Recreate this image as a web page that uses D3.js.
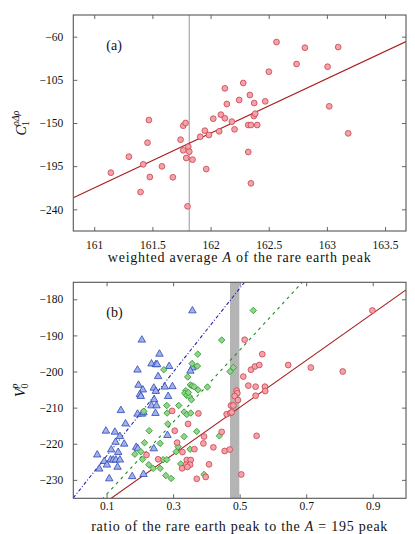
<!DOCTYPE html>
<html><head><meta charset="utf-8">
<script src="https://cdn.jsdelivr.net/npm/d3@7"></script>
<style>
body{margin:0;background:#fff;}
text{font-family:"Liberation Serif","DejaVu Serif",serif;fill:#111;}
</style></head>
<body><svg id="c" width="415" height="534"></svg>
<script>
// ---------- Panel (a) data ----------
const aX = [161.143,161.298,161.421,161.398,161.470,161.458,161.478,161.582,161.676,161.742,
  161.765,161.785,161.765,161.808,161.817,161.791,161.845,161.802,161.911,161.951,
  161.986,162.023,161.963,162.074,162.089,162.123,162.123,162.140,162.183,162.206,
  162.246,162.281,162.324,162.347,162.324,162.347,162.338,162.375,162.372,162.384,
  162.401,162.470,162.501,162.567,162.739,162.811,163.006,163.020,163.097,163.183];
const aY = [-201.8,-185.1,-193.1,-222.0,-146.9,-170.5,-206.3,-195.2,-206.6,-167.4,
  -152.8,-150.0,-178.5,-174.7,-179.9,-186.5,-188.2,-236.9,-164.3,-158.0,
  -162.5,-145.5,-198.0,-158.7,-141.3,-145.1,-113.9,-130.2,-148.6,-156.6,
  -126.0,-108.3,-152.1,-152.1,-180.2,-212.9,-120.8,-129.2,-142.7,-140.3,
  -152.1,-127.4,-96.5,-65.6,-88.5,-71.5,-91.3,-132.6,-70.8,-160.8];
const aFit = {x0:162, y0:-160.7, slope:56.9};
const aRef = 161.817;
const aXTicks = [161,161.5,162,162.5,163,163.5];
const aYTicks = [-60,-105,-150,-195,-240];
const aXDomain = [160.82,163.68];
const aYDomain = [-262.6,-37.4];

// ---------- Panel (b) data ----------
const bBlue = [[0.206,-191.1],[0.259,-195.0],[0.235,-197.7],[0.248,-197.9],[0.252,-197.9],
  [0.288,-198.4],[0.193,-199.4],[0.255,-201.2],[0.298,-204.0],[0.196,-203.6],[0.209,-204.9],
  [0.200,-206.2],[0.203,-206.7],[0.242,-204.4],[0.248,-205.3],[0.275,-204.1],[0.285,-206.7],
  [0.243,-207.6],[0.235,-209.3],[0.250,-209.3],[0.247,-211.4],[0.193,-211.6],[0.206,-211.6],
  [0.211,-211.2],[0.143,-210.6],[0.157,-214.3],[0.283,-217.5],[0.098,-216.3],[0.125,-216.6],
  [0.140,-217.8],[0.127,-219.4],[0.153,-219.9],[0.072,-222.9],[0.114,-221.5],[0.135,-222.2],
  [0.189,-220.8],[0.194,-221.2],[0.242,-221.2],[0.112,-224.3],[0.120,-224.3],[0.128,-224.3],
  [0.140,-224.3],[0.093,-224.7],[0.101,-225.7],[0.078,-226.8],[0.133,-226.3],[0.108,-229.5],
  [0.177,-228.9],[0.211,-228.3],[0.358,-183.0],[0.358,-198.8],[0.352,-199.7]];
const bGreen = [[0.541,-183.1],[0.446,-191.3],[0.374,-195.2],[0.272,-199.5],[0.357,-197.8],
  [0.373,-198.5],[0.471,-200.0],[0.481,-198.9],[0.344,-201.5],[0.352,-203.7],[0.357,-204.0],
  [0.363,-204.2],[0.375,-205.1],[0.403,-204.3],[0.338,-205.3],[0.335,-206.0],[0.341,-206.6],
  [0.349,-206.9],[0.355,-207.8],[0.346,-205.8],[0.281,-209.4],[0.317,-209.4],[0.333,-211.2],
  [0.341,-211.9],[0.353,-211.5],[0.282,-211.5],[0.284,-214.5],[0.228,-216.4],[0.371,-216.6],
  [0.439,-217.8],[0.333,-218.0],[0.214,-219.7],[0.261,-219.9],[0.315,-220.8],[0.309,-222.2],
  [0.351,-221.5],[0.185,-222.9],[0.203,-222.2],[0.208,-224.3],[0.270,-224.4],[0.281,-224.4],
  [0.227,-225.8],[0.240,-226.8],[0.261,-226.8],[0.323,-225.6],[0.278,-228.8],[0.294,-229.6],
  [0.393,-228.5],[0.212,-211.0]];
const bRed = [[0.899,-183.1],[0.515,-191.2],[0.568,-195.2],[0.646,-198.2],[0.714,-198.9],
  [0.810,-200.0],[0.534,-199.5],[0.546,-198.6],[0.559,-198.2],[0.511,-201.4],[0.526,-203.9],
  [0.548,-204.2],[0.576,-204.2],[0.577,-205.4],[0.548,-206.7],[0.491,-205.3],[0.493,-206.0],
  [0.485,-206.8],[0.495,-207.9],[0.474,-209.4],[0.481,-209.4],[0.461,-211.8],[0.472,-211.5],
  [0.476,-211.3],[0.551,-217.8],[0.446,-216.7],[0.393,-218.0],[0.391,-219.9],[0.421,-221.0],
  [0.455,-222.0],[0.470,-221.6],[0.408,-225.7],[0.505,-228.5],[0.398,-229.2],[0.376,-211.6],
  [0.345,-214.5],[0.305,-216.4],[0.312,-219.7],[0.328,-222.3],[0.364,-221.5],[0.341,-224.5],
  [0.353,-224.5],[0.339,-225.8],[0.351,-225.8],[0.327,-226.8],[0.343,-226.4],[0.371,-229.7],
  [0.297,-210.9],[0.220,-223.1],[0.255,-224.3]];
const bFits = [
  {name:"blue", intercept:-235.0, slope:116.0},
  {name:"green", intercept:-244.0, slope:99.8},
  {name:"red", intercept:-242.5, slope:65.1}];
const bBand = [0.471,0.499];
const bXTicks = [0.1,0.3,0.5,0.7,0.9];
const bYTicks = [-180,-190,-200,-210,-220,-230];
const bXDomain = [0,1];
const bYDomain = [-235.1,-175.3];

// ---------- styles ----------
const C = {
  red:{fill:"#f4a2aa", stroke:"#c8424c", line:"#a81c1c"},
  green:{fill:"#8fd68a", stroke:"#2f9a2f", line:"#228a22"},
  blue:{fill:"#9fb2ea", stroke:"#2f45b5", line:"#2222b0"},
  frame:"#555", ref:"#b0b0b0", band:"#b4b4b4"
};
const fmt = d => (d<0?"\u2212":"") + String(Math.abs(d));

const svg = d3.select("#c");
const L = 73.3, W = 332.7, H = 216;

function panel(top, xd, yd, xt, yt, xpad, id){
  const g = svg.append("g").attr("transform",`translate(${L},${top})`);
  const x = d3.scaleLinear().domain(xd).range([0,W]);
  const y = d3.scaleLinear().domain(yd).range([H,0]);
  svg.append("defs").append("clipPath").attr("id",id).append("rect").attr("width",W).attr("height",H);
  const plot = g.append("g").attr("clip-path",`url(#${id})`);
  return {g,x,y,plot,xt,yt,xpad,id};
}
function axes(p){
  const {g,x,y,xt,yt,xpad} = p;
  const ax = [
    g.append("g").attr("transform",`translate(0,${H})`).call(d3.axisBottom(x).tickValues(xt).tickSize(-4).tickPadding(xpad).tickFormat(d=>String(d))),
    g.append("g").call(d3.axisTop(x).tickValues(xt).tickSize(-4).tickFormat("")),
    g.append("g").call(d3.axisLeft(y).tickValues(yt).tickSize(-4).tickPadding(10).tickFormat(fmt)),
    g.append("g").attr("transform",`translate(${W},0)`).call(d3.axisRight(y).tickValues(yt).tickSize(-4).tickFormat(""))
  ];
  ax.forEach(a=>{a.attr("font-family",null).attr("font-size",null);
    a.select(".domain").remove();a.selectAll("line").attr("stroke",C.frame).attr("stroke-width",0.9);
    a.selectAll("text").attr("font-size",11.5).attr("fill","#111");});
  g.append("rect").attr("width",W).attr("height",H).attr("fill","none").attr("stroke",C.frame).attr("stroke-width",1.1);
}
const TITLE = {size:14, ls:0.75};

// ---------- Panel (a) ----------
const pa = panel(15, aXDomain, aYDomain, aXTicks, aYTicks, 10, "clipA");
pa.plot.append("line").attr("x1",pa.x(aRef)).attr("x2",pa.x(aRef)).attr("y1",0).attr("y2",H)
  .attr("stroke",C.ref).attr("stroke-width",1.3);
pa.plot.append("line")
  .attr("x1",pa.x(aXDomain[0])).attr("y1",pa.y(aFit.y0+aFit.slope*(aXDomain[0]-aFit.x0)))
  .attr("x2",pa.x(aXDomain[1])).attr("y2",pa.y(aFit.y0+aFit.slope*(aXDomain[1]-aFit.x0)))
  .attr("stroke",C.red.line).attr("stroke-width",1.1);
pa.plot.selectAll("circle.pt").data(aX.map((v,i)=>[v,aY[i]])).join("circle").attr("class","pt")
  .attr("cx",d=>pa.x(d[0])).attr("cy",d=>pa.y(d[1])).attr("r",2.9)
  .attr("fill",C.red.fill).attr("stroke",C.red.stroke).attr("stroke-width",0.8);
axes(pa);
pa.g.append("text").attr("x",33).attr("y",35).attr("font-size",14).text("(a)");
pa.g.append("text").attr("x",W/2).attr("y",H+31).attr("text-anchor","middle").attr("font-size",TITLE.size).attr("letter-spacing",TITLE.ls)
  .call(t=>{t.append("tspan").text("weighted average ");t.append("tspan").attr("font-style","italic").text("A");t.append("tspan").text(" of the rare earth peak");});
{
  const t = svg.append("text").attr("transform",`translate(26,${15+H/2}) rotate(-90)`).attr("text-anchor","middle").attr("font-size",14);
  t.append("tspan").attr("font-style","italic").text("C");
  t.append("tspan").attr("font-size",10).attr("dy",3).text("1");
  t.append("tspan").attr("font-size",10).attr("font-style","italic").attr("dx",-5).attr("dy",-10).text("ρΔρ");
}

// ---------- Panel (b) ----------
const pb = panel(282.3, bXDomain, bYDomain, bXTicks, bYTicks, 4, "clipB");
pb.plot.append("rect").attr("x",pb.x(bBand[0])).attr("width",pb.x(bBand[1])-pb.x(bBand[0]))
  .attr("y",0).attr("height",H).attr("fill",C.band);
const dash = {blue:"3.5,2,1,2", green:"3,4", red:null};
bFits.forEach(f=>{
  const ln = pb.plot.append("line")
    .attr("x1",pb.x(bXDomain[0])).attr("y1",pb.y(f.intercept+f.slope*bXDomain[0]))
    .attr("x2",pb.x(bXDomain[1])).attr("y2",pb.y(f.intercept+f.slope*bXDomain[1]))
    .attr("stroke",C[f.name].line).attr("stroke-width",1.1);
  if(dash[f.name]) ln.attr("stroke-dasharray",dash[f.name]);
});
const tri = d3.symbol().type(d3.symbolTriangle).size(24)();
const dia = d3.symbol().type(d3.symbolSquare).size(21)();
pb.plot.selectAll("path.blue").data(bBlue).join("path").attr("class","blue").attr("d",tri)
  .attr("transform",d=>`translate(${pb.x(d[0])},${pb.y(d[1])+0.6})`)
  .attr("fill",C.blue.fill).attr("stroke",C.blue.stroke).attr("stroke-width",0.8);
pb.plot.selectAll("path.green").data(bGreen).join("path").attr("class","green").attr("d",dia)
  .attr("transform",d=>`translate(${pb.x(d[0])},${pb.y(d[1])}) rotate(45)`)
  .attr("fill",C.green.fill).attr("stroke",C.green.stroke).attr("stroke-width",0.8);
pb.plot.selectAll("circle.red").data(bRed).join("circle").attr("class","red")
  .attr("cx",d=>pb.x(d[0])).attr("cy",d=>pb.y(d[1])).attr("r",2.9)
  .attr("fill",C.red.fill).attr("stroke",C.red.stroke).attr("stroke-width",0.8);
axes(pb);
pb.g.append("text").attr("x",33).attr("y",35).attr("font-size",14).text("(b)");
pb.g.append("text").attr("x",W/2).attr("y",H+33).attr("text-anchor","middle").attr("font-size",TITLE.size).attr("letter-spacing",TITLE.ls)
  .call(t=>{t.append("tspan").text("ratio of the rare earth peak to the ");t.append("tspan").attr("font-style","italic").text("A");t.append("tspan").text(" = 195 peak");});
{
  const t = svg.append("text").attr("transform",`translate(25,${282.3+H/2}) rotate(-90)`).attr("text-anchor","middle").attr("font-size",14);
  t.append("tspan").attr("font-style","italic").text("V");
  t.append("tspan").attr("font-size",10).attr("dy",3).text("0");
  t.append("tspan").attr("font-size",10).attr("font-style","italic").attr("dx",-5).attr("dy",-10).text("p");
}
</script></body></html>
